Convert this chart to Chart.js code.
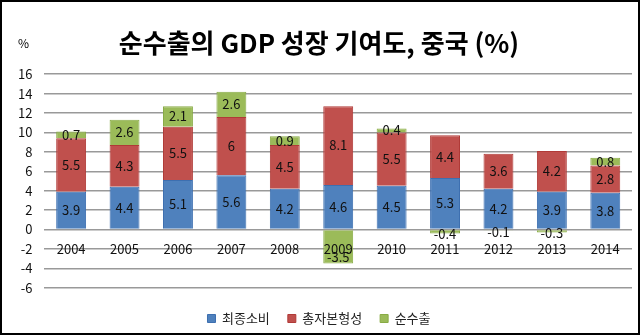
<!DOCTYPE html>
<html>
<head>
<meta charset="utf-8">
<script src="https://cdn.jsdelivr.net/npm/chart.js@4/dist/chart.umd.min.js"></script>
<style>
  html, body { margin: 0; padding: 0; background: #fff; }
  .frame { width: 640px; height: 335px; box-sizing: border-box; border: 2px solid #000; }
  canvas { display: block; }
</style>
</head>
<body>
<div class="frame"><canvas id="chart" width="636" height="331"></canvas></div>
<script>
const years = ['2004', '2005', '2006', '2007', '2008', '2009', '2010', '2011', '2012', '2013', '2014'];
const consumption = [3.9, 4.4, 5.1, 5.6, 4.2, 4.6, 4.5, 5.3, 4.2, 3.9, 3.8];
const capital = [5.5, 4.3, 5.5, 6, 4.5, 8.1, 5.5, 4.4, 3.6, 4.2, 2.8];
const netExports = [0.7, 2.6, 2.1, 2.6, 0.9, -3.5, 0.4, -0.4, -0.1, -0.3, 0.8];
const seriesNames = ['최종소비', '총자본형성', '순수출'];

const font = "'Noto Sans CJK KR', 'Noto Sans', sans-serif";

/* value labels inside each bar segment */
const barLabels = {
  id: 'barLabels',
  afterDatasetsDraw(chart) {
    const ctx = chart.ctx;
    ctx.save();
    ctx.font = '13px ' + font;
    ctx.fillStyle = '#111';
    ctx.textAlign = 'center';
    ctx.textBaseline = 'middle';
    chart.data.datasets.forEach((ds, i) => {
      chart.getDatasetMeta(i).data.forEach((el, j) => {
        const v = ds.data[j];
        const c = el.getCenterPoint();
        let y = c.y;
        if (v < 0) y = Math.max(c.y + 2, el.y - 6);
        ctx.fillText(String(v), c.x, y);
      });
    });
    ctx.restore();
  }
};

/* the little % unit mark */
const unitMark = {
  id: 'unitMark',
  afterDraw(chart) {
    const ctx = chart.ctx;
    ctx.save();
    ctx.font = '12px ' + font;
    ctx.fillStyle = '#000';
    ctx.textAlign = 'left';
    ctx.textBaseline = 'middle';
    ctx.fillText('%', 16, 41);
    ctx.restore();
  }
};

new Chart(document.getElementById('chart'), {
  type: 'bar',
  data: {
    labels: years,
    datasets: [
      { label: seriesNames[0], data: consumption, backgroundColor: '#4f81bd', borderColor: '#3d6fb0', borderWidth: 1 },
      { label: seriesNames[1], data: capital, backgroundColor: '#c0504d', borderColor: '#b03a37', borderWidth: 1 },
      { label: seriesNames[2], data: netExports, backgroundColor: '#9bbb59', borderColor: '#88ab45', borderWidth: 1 }
    ]
  },
  options: {
    responsive: false,
    animation: false,
    layout: { padding: { left: 4, right: 6, top: 4, bottom: -2 } },
    datasets: { bar: { categoryPercentage: 1, barPercentage: 0.56 } },
    plugins: {
      title: {
        display: true,
        text: '순수출의 GDP 성장 기여도, 중국 (%)',
        color: '#000',
        font: { family: font, size: 26, weight: 'bold' },
        padding: { top: 22, bottom: 15 }
      },
      legend: {
        position: 'bottom',
        title: { display: true, text: '', font: { size: 1 }, padding: { top: 0, bottom: 5 } },
        labels: {
          color: '#222',
          font: { family: font, size: 13 },
          boxWidth: 8,
          boxHeight: 8,
          padding: 18
        }
      },
      tooltip: { enabled: false }
    },
    scales: {
      x: {
        stacked: true,
        position: { y: 0 },
        grid: { display: false },
        border: { display: false },
        ticks: { z: 1, color: '#111', font: { family: font, size: 13 }, padding: 4 }
      },
      y: {
        stacked: true,
        min: -6,
        max: 16,
        ticks: { stepSize: 2, color: '#111', font: { family: font, size: 13 }, padding: 12 },
        grid: { color: '#999', lineWidth: 1.5, drawTicks: false },
        border: { display: false }
      }
    }
  },
  plugins: [barLabels, unitMark]
});
</script>
</body>
</html>
